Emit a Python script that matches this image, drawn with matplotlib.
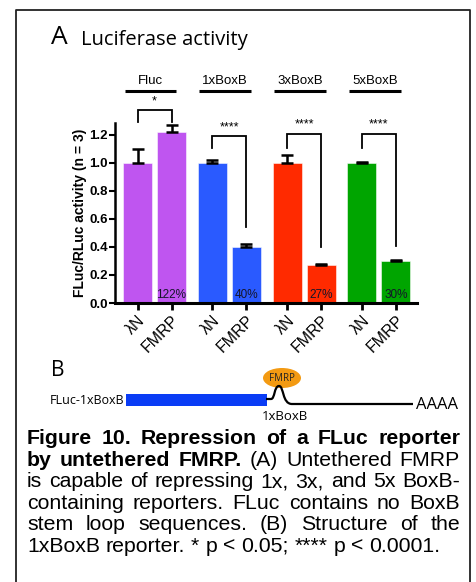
import matplotlib
matplotlib.use("Agg")
import matplotlib.pyplot as plt
from matplotlib.patches import Rectangle, Ellipse, PathPatch
from matplotlib.path import Path
from matplotlib.lines import Line2D
import numpy as np

# ---------------- data ----------------
groups = ["Fluc", "1xBoxB", "3xBoxB", "5xBoxB"]
conditions = ["λN", "FMRP"]
lambdaN_vals = [1.00, 1.00, 1.00, 1.00]
fmrp_vals = [1.22, 0.40, 0.27, 0.30]
lambdaN_err = [0.10, 0.02, 0.055, 0.01]
fmrp_err = [0.05, 0.02, 0.01, 0.01]
pct_labels = ["122%", "40%", "27%", "30%"]
sig_labels = ["*", "****", "****", "****"]
# bracket: (top, left leg bottom, right leg bottom)
brackets = [(1.38, 1.29, 1.29), (1.19, 1.11, 0.54), (1.21, 1.11, 0.40), (1.21, 1.11, 0.41)]
colors = ["#BF55F0", "#2A5AFF", "#FF2A00", "#00A500"]
yticks = [0.0, 0.2, 0.4, 0.6, 0.8, 1.0, 1.2]

W, H = 477, 582
fig = plt.figure(figsize=(W / 100, H / 100), dpi=100)
fig.patch.set_facecolor("white")

SANS = ["Liberation Sans", "DejaVu Sans"]
MYR = ["Open Sans", "DejaVu Sans"]

# overlay in pixel coordinates
ov = fig.add_axes([0, 0, 1, 1])
ov.set_xlim(0, W)
ov.set_ylim(H, 0)
ov.set_autoscale_on(False)
ov.axis("off")
ov.patch.set_alpha(0)

# bar axes
ax_l, ax_r, ax_t, ax_b = 115, 417, 123, 303
ax = fig.add_axes([ax_l / W, 1 - ax_b / H, (ax_r - ax_l) / W, (ax_b - ax_t) / H])
ax.patch.set_alpha(0)

gap = 2.2
bw = 0.85
xpos_l = np.arange(len(groups)) * gap
xpos_f = xpos_l + 1

ax.bar(xpos_l, lambdaN_vals, width=bw, color=colors, edgecolor=(1, 1, 1, 0.6), linewidth=0.6, zorder=2)
ax.bar(xpos_f, fmrp_vals, width=bw, color=colors, edgecolor=(1, 1, 1, 0.6), linewidth=0.6, zorder=2)
for xs, vals, errs in [(xpos_l, lambdaN_vals, lambdaN_err), (xpos_f, fmrp_vals, fmrp_err)]:
    ax.errorbar(xs, vals, yerr=[np.zeros(len(errs)), errs], fmt="none", ecolor="black",
                elinewidth=1.8, capsize=4.5, capthick=1.8, zorder=3)

for x, lab in zip(xpos_f, pct_labels):
    ax.text(x, 0.055, lab, ha="center", va="center", fontsize=8.5, color="#15152a",
            family=SANS, zorder=4)

ax.set_xlim(-0.662, 8.22)
ax.set_ylim(0, 1.2857)
ax.set_yticks(yticks)
ax.set_yticklabels([f"{v:.1f}" for v in yticks], fontsize=9.5, fontweight="bold", family=SANS)
ticks_x = np.sort(np.concatenate([xpos_l, xpos_f]))
ax.set_xticks(ticks_x)
ax.set_xticklabels(conditions * len(groups), rotation=45, ha="right", va="top",
                   rotation_mode="anchor", fontsize=11.5, family=SANS)
ax.tick_params(axis="x", length=5, width=2, pad=2)
ax.tick_params(axis="y", length=4, width=1.5, pad=1)
for s in ["top", "right"]:
    ax.spines[s].set_visible(False)
ax.spines["left"].set_linewidth(1.8)
ax.spines["bottom"].set_linewidth(2.2)
ax.set_ylabel("FLuc/RLuc activity (n = 3)", fontsize=10, fontweight="bold", family=SANS, labelpad=2)

# significance brackets
for xl, xf, (top, lb, rb), s in zip(xpos_l, xpos_f, brackets, sig_labels):
    ax.plot([xl, xl, xf, xf], [lb, top, top, rb], color="black", lw=1.3, clip_on=False,
            solid_joinstyle="miter", zorder=5)
    ax.text((xl + xf) / 2, top + 0.02, s, ha="center", va="bottom", fontsize=9,
            family=SANS, clip_on=False)

# group labels with underline
for xl, xf, g in zip(xpos_l, xpos_f, groups):
    c = (xl + xf) / 2 - 0.12
    ax.text(c, 1.545, g, ha="center", va="bottom", fontsize=9.5, family=SANS, clip_on=False)
    ax.plot([c - 0.76, c + 0.76], [1.514, 1.514], color="black", lw=2.2, clip_on=False,
            solid_capstyle="butt")

# ---------------- frame ----------------
fx = [16 / W, 16 / W, 470 / W, 470 / W]
fy = [0, 1 - 10 / H, 1 - 10 / H, 0]
fig.add_artist(Line2D(fx, fy, transform=fig.transFigure, color="#222222", lw=1.3))

# ---------------- titles ----------------
ov.text(51, 44, "A", fontsize=19, family=MYR, ha="left", va="baseline")
ov.text(81, 45, "Luciferase activity", fontsize=14.5, family=MYR, ha="left", va="baseline")

# ---------------- panel B ----------------
ov.text(51, 376, "B", fontsize=15, family=MYR, ha="left", va="baseline")
ov.text(124, 400, "FLuc-1xBoxB", fontsize=9, family=MYR, ha="right", va="center")
ov.add_patch(Rectangle((126, 394), 141, 12, facecolor="#0A3CF5", edgecolor="none"))
verts = [(266, 399), (271, 399),
         (275, 399), (274, 386), (279, 386),
         (284, 386), (282, 404), (292, 404),
         (413, 404)]
codes = [Path.MOVETO, Path.LINETO,
         Path.CURVE4, Path.CURVE4, Path.CURVE4,
         Path.CURVE4, Path.CURVE4, Path.CURVE4,
         Path.LINETO]
ov.add_patch(PathPatch(Path(verts, codes), facecolor="none", edgecolor="black", lw=1.6, zorder=3))
ov.add_patch(Ellipse((282, 378), 38, 20, facecolor="#F39A12", edgecolor="none", zorder=2))
ov.text(282, 378.5, "FMRP", fontsize=7, family=MYR, ha="center", va="center", color="#222222", zorder=4)
ov.text(285, 416, "1xBoxB", fontsize=9.5, family=MYR, ha="center", va="center")
ov.text(416, 405, "AAAA", fontsize=12, family=MYR, ha="left", va="center")

# ---------------- caption (justified) ----------------
fig.canvas.draw()
r = fig.canvas.get_renderer()
left, right = 27, 460
lines = [
    ([("Figure", "bold"), ("10.", "bold"), ("Repression", "bold"), ("of", "bold"), ("a", "bold"),
      ("FLuc", "bold"), ("reporter", "bold")], True),
    ([("by", "bold"), ("untethered", "bold"), ("FMRP.", "bold"), ("(A)", "normal"),
      ("Untethered", "normal"), ("FMRP", "normal")], True),
    ([(w, "normal") for w in "is capable of repressing 1x, 3x, and 5x BoxB-".split()], True),
    ([(w, "normal") for w in "containing reporters. FLuc contains no BoxB".split()], True),
    ([(w, "normal") for w in "stem loop sequences. (B) Structure of the".split()], True),
    ([(w, "normal") for w in "1xBoxB reporter. * p < 0.05; **** p < 0.0001.".split()], False),
]

def width_of(s, weight, fs):
    t = ov.text(0, 0, s, fontsize=fs, fontweight=weight, family=SANS)
    w = t.get_window_extent(r).width
    t.remove()
    return w

# size caption so the last (unjustified) line spans like the reference
base = width_of(" ".join(w for w, _ in lines[-1][0]), "normal", 10)
CFS = 10 * (441 - left) / base

space_w = width_of("a b", "normal", CFS) - width_of("ab", "normal", CFS)
y0, dy = 444.5, 21.4
for i, (words, justify) in enumerate(lines):
    ws = [width_of(w, wt, CFS) for w, wt in words]
    if justify:
        g = (right - left - sum(ws)) / (len(words) - 1)
    else:
        g = space_w
    x = left
    for (w, wt), ww in zip(words, ws):
        ov.text(x, y0 + i * dy, w, fontsize=CFS, fontweight=wt, family=SANS,
                ha="left", va="baseline")
        x += ww + g

fig.savefig("out.png", dpi=100)
